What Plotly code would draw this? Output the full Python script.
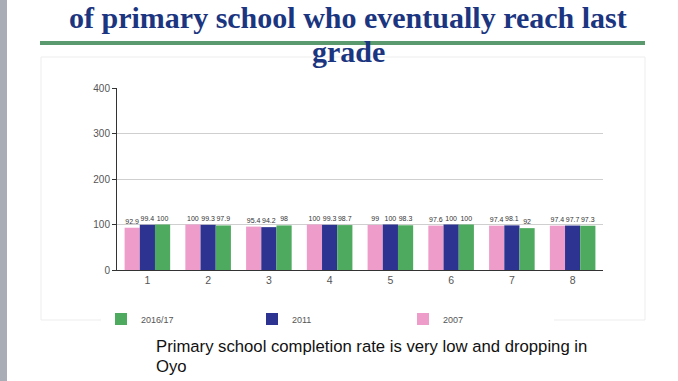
import plotly.graph_objects as go

categories = ["1", "2", "3", "4", "5", "6", "7", "8"]
series_names = ["2007", "2011", "2016/17"]
v2007 = [92.9, 100, 95.4, 100, 99, 97.6, 97.4, 97.4]
v2011 = [99.4, 99.3, 94.2, 99.3, 100, 100, 98.1, 97.7]
v2016 = [100, 97.9, 98, 98.7, 98.3, 100, 92, 97.3]
colors = ["#EE9DCA", "#2C3391", "#4DAA5F"]

W, H = 678, 381
L, R, T, B = 117, 75, 88, 111

fig = go.Figure()
for name, vals, col in zip(series_names, [v2007, v2011, v2016], colors):
    fig.add_trace(go.Bar(
        x=categories, y=vals, name=name, marker=dict(color=col, line=dict(width=0)),
        text=[str(v) for v in vals], textposition="outside", cliponaxis=False,
        textfont=dict(size=7, color="#333", family="Liberation Sans Narrow, Liberation Sans"),
    ))

fig.update_layout(
    width=W, height=H,
    margin=dict(l=L, r=R, t=T, b=B),
    paper_bgcolor="white", plot_bgcolor="white",
    barmode="group", bargap=0.25, bargroupgap=0,
    font=dict(family="Liberation Sans", color="#555"),
    uniformtext=dict(minsize=6, mode="show"),
    yaxis=dict(range=[0, 400], tickvals=[0, 100, 200, 300, 400],
               showgrid=True, gridcolor="#CFCFCF", gridwidth=1,
               showline=True, linecolor="#333", linewidth=1,
               ticks="outside", ticklen=4, tickcolor="#333",
               tickfont=dict(size=10, color="#555"), zeroline=False),
    xaxis=dict(showline=True, linecolor="#333", linewidth=1,
               ticks="", tickfont=dict(size=10.5, color="#555")),
    legend=dict(orientation="h", x=-16 / (W - L - R), xanchor="left", y=-0.19, yanchor="top",
                traceorder="reversed", entrywidth=106, entrywidthmode="pixels",
                font=dict(size=9, color="#555"), itemwidth=30),
    showlegend=True,
)

def px(xp, yp):
    return (xp - L) / (W - L - R), (H - B - yp) / (H - T - B)

shapes = []
x0, y0 = px(41, 320); x1, y1 = px(645, 57)
shapes.append(dict(type="rect", xref="paper", yref="paper", x0=x0, x1=x1, y0=y0, y1=y1,
                   line=dict(color="#EDEDED", width=1), fillcolor="rgba(0,0,0,0)", layer="below"))
x0, y0 = px(0, H); x1, y1 = px(7, 0)
shapes.append(dict(type="rect", xref="paper", yref="paper", x0=x0, x1=x1, y0=y0, y1=y1,
                   line=dict(width=0), fillcolor="#A9ADB5"))
x0, y0 = px(40, 45); x1, y1 = px(645, 41)
shapes.append(dict(type="rect", xref="paper", yref="paper", x0=x0, x1=x1, y0=y0, y1=y1,
                   line=dict(width=0), fillcolor="#5A9A6E"))
fig.update_layout(shapes=shapes)

annos = []
x, y = px(348, 17)
annos.append(dict(text="<b>of primary school who eventually reach last</b>", x=x, y=y,
                  xref="paper", yref="paper", showarrow=False, xanchor="center", yanchor="middle",
                  font=dict(family="Liberation Serif", size=30, color="#1B3580")))
x, y = px(348, 51)
annos.append(dict(text="<b>grade</b>", x=x, y=y,
                  xref="paper", yref="paper", showarrow=False, xanchor="center", yanchor="middle",
                  font=dict(family="Liberation Serif", size=30, color="#1B3580")))
for line, yp in [("Primary school completion rate is very low and dropping in", 346), ("Oyo", 366)]:
    x, y = px(154, yp)
    annos.append(dict(text=line, x=x, y=y,
                      xref="paper", yref="paper", showarrow=False, xanchor="left", yanchor="middle",
                      align="left", font=dict(family="Liberation Sans", size=16.7, color="#111")))
fig.update_layout(annotations=annos)

fig.write_html("out.html", config={"displayModeBar": False},
               post_script="document.body.style.margin='0';document.body.style.padding='0';")
